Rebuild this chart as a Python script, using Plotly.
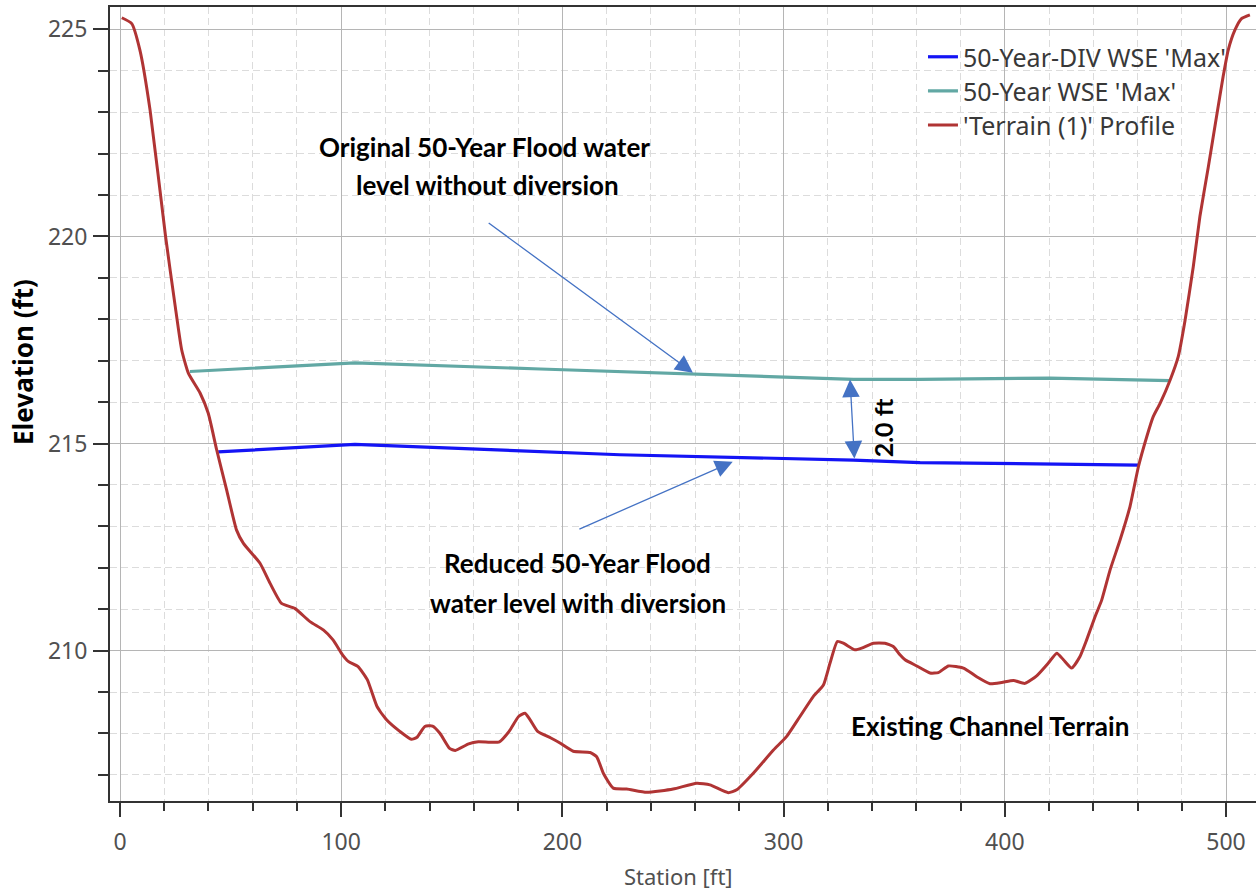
import plotly.graph_objects as go

# Cross-section terrain profile (station ft, elevation ft)
terrain_station = [0.8, 5.3, 9.0, 13.6, 20.6, 25.0, 27.9, 30.9, 36.2, 39.9, 43.7, 48.2,
                   52.7, 55.8, 63.3, 67.8, 73.0, 79.0, 85.9, 91.9, 96.3, 100.6, 103.2,
                   107.5, 111.8, 116.2, 120.5, 126.5, 131.7, 134.3, 137.8, 141.3, 144.7,
                   149.0, 151.6, 157.6, 162.0, 167.2, 171.5, 175.9, 180.2, 183.1, 185.4,
                   188.8, 194.8, 198.9, 204.9, 212.5, 215.5, 218.5, 223.0, 229.1, 238.1,
                   250.1, 260.7, 266.7, 275.0, 278.8, 286.3, 295.4, 301.4, 307.4, 313.4,
                   318.0, 321.0, 324.3, 327.0, 332.3, 335.3, 340.6, 345.8, 349.6, 352.6,
                   354.9, 360.2, 366.2, 370.0, 374.5, 381.3, 387.3, 393.3, 398.6, 403.9,
                   409.1, 414.4, 419.7, 423.5, 426.5, 430.2, 434.0, 437.0, 440.8, 443.8,
                   447.6, 452.1, 456.6, 460.4, 464.2, 467.1, 470.2, 474.7, 478.4, 481.5,
                   485.2, 488.2, 492.0, 495.7, 498.7, 501.0, 504.0, 507.0, 510.8]
terrain_elev = [225.28, 225.14, 224.5, 223.05, 220.0, 218.3, 217.26, 216.7, 216.22, 215.73,
                214.85, 213.88, 212.91, 212.59, 212.11, 211.63, 211.14, 211.02, 210.7,
                210.5, 210.26, 209.9, 209.74, 209.62, 209.3, 208.65, 208.33, 208.05,
                207.86, 207.91, 208.17, 208.18, 208.0, 207.64, 207.59, 207.75, 207.8,
                207.79, 207.8, 208.05, 208.41, 208.49, 208.33, 208.05, 207.89, 207.77,
                207.57, 207.54, 207.44, 207.04, 206.68, 206.66, 206.58, 206.66, 206.8,
                206.76, 206.57, 206.64, 207.04, 207.6, 207.93, 208.41, 208.89, 209.17,
                209.7, 210.22, 210.18, 210.02, 210.06, 210.18, 210.18, 210.1, 209.9,
                209.78, 209.63, 209.46, 209.47, 209.63, 209.58, 209.37, 209.2, 209.23,
                209.28, 209.21, 209.39, 209.7, 209.94, 209.78, 209.58, 209.86, 210.26,
                210.82, 211.22, 211.95, 212.67, 213.48, 214.44, 215.17, 215.65, 215.97,
                216.53, 217.1, 217.98, 219.27, 220.48, 221.68, 222.89, 223.86, 224.5,
                224.98, 225.26, 225.35]

# Maximum water surface elevation, 50-year event without diversion
wse50_station = [31.6, 106.2, 190.0, 259.2, 300.0, 331.5, 361.7, 420.4, 474.7]
wse50_elev = [216.74, 216.95, 216.80, 216.68, 216.61, 216.55, 216.55, 216.58, 216.52]

# Maximum water surface elevation, 50-year event with diversion
wse50div_station = [44.4, 106.2, 226.0, 277.3, 300.0, 331.5, 361.7, 420.4, 460.4]
wse50div_elev = [214.80, 214.98, 214.73, 214.67, 214.64, 214.60, 214.54, 214.51, 214.48]

x_ticks = [0, 100, 200, 300, 400, 500]
y_ticks = [210, 215, 220, 225]

BLUE = "#1414f5"
TEAL = "#62a8a4"
TERRAIN = "#b03434"
ARROW = "#4472c4"
AXIS = "#333333"

fig = go.Figure()
fig.add_trace(go.Scatter(x=wse50div_station, y=wse50div_elev, mode="lines",
                         name="50-Year-DIV WSE 'Max'", line=dict(color=BLUE, width=3.2),
                         legend="legend"))
fig.add_trace(go.Scatter(x=wse50_station, y=wse50_elev, mode="lines",
                         name="50-Year WSE 'Max'", line=dict(color=TEAL, width=3.2),
                         legend="legend2"))
fig.add_trace(go.Scatter(x=terrain_station, y=terrain_elev, mode="lines",
                         name="'Terrain (1)' Profile",
                         line=dict(color=TERRAIN, width=3, shape="spline", smoothing=0.5),
                         legend="legend3"))

tick_font = dict(family="Noto Sans", size=23, color="#505050")
legend_font = dict(family="Noto Sans", size=25, color="#383838")

fig.update_xaxes(
    range=[-4.52, 513.56], tickvals=x_ticks, ticks="outside", ticklen=14, tickwidth=2,
    tickcolor=AXIS, showline=True, linecolor=AXIS, linewidth=2, mirror=True,
    showgrid=True, gridcolor="#b5b5b5", gridwidth=1, zeroline=False,
    tickfont=tick_font, ticklabelstandoff=5,
    minor=dict(tickmode="linear", tick0=0, dtick=20, ticks="outside", ticklen=8,
               tickwidth=2, tickcolor=AXIS, showgrid=True, gridcolor="#dcdcdc",
               gridwidth=1, griddash="7px,4px"),
)
fig.update_yaxes(
    range=[206.37, 225.54], tickvals=y_ticks, ticks="outside", ticklen=15, tickwidth=2,
    tickcolor=AXIS, showline=True, linecolor=AXIS, linewidth=2,
    showgrid=True, gridcolor="#b5b5b5", gridwidth=1, zeroline=False,
    tickfont=tick_font, ticklabelstandoff=1,
    minor=dict(tickmode="linear", tick0=0, dtick=1, ticks="outside", ticklen=10,
               tickwidth=2, tickcolor=AXIS, showgrid=True, gridcolor="#dcdcdc",
               gridwidth=1, griddash="7px,4px"),
)

legend_common = dict(x=0.7094, xanchor="left", yanchor="middle", bgcolor="rgba(0,0,0,0)",
                     borderwidth=0, font=legend_font)
fig.update_layout(
    width=1256, height=890,
    margin=dict(l=110, r=0, t=7, b=89),
    plot_bgcolor="white", paper_bgcolor="white",
    showlegend=True,
    legend=dict(y=0.937, **legend_common),
    legend2=dict(y=0.894, **legend_common),
    legend3=dict(y=0.851, **legend_common),
)

# Axis titles
fig.add_annotation(text="Elevation (ft)", xref="paper", yref="paper", x=-0.0759, y=0.553,
                   xanchor="center", yanchor="middle", textangle=-90, showarrow=False,
                   font=dict(family="Noto Sans", size=26, color="black", weight="bold"))
fig.add_annotation(text="Station [ft]", xref="paper", yref="paper", x=0.4965, y=-0.0945,
                   xanchor="center", yanchor="middle", showarrow=False,
                   font=dict(family="Noto Sans", size=22, color="#505050"))

# Callout labels
note_font = dict(family="Lato", size=26, color="black", weight="bold")
callouts = [
    ("Original 50-Year Flood water", 165.0, 222.16),
    ("level without diversion", 166.0, 221.24),
    ("Reduced 50-Year Flood", 207.0, 212.12),
    ("water level with diversion", 207.0, 211.15),
    ("Existing Channel Terrain", 393.3, 208.17),
]
for text, cx, cy in callouts:
    fig.add_annotation(text=text, x=cx, y=cy, xref="x", yref="y", showarrow=False,
                       font=note_font)

fig.add_annotation(text="2.0 ft", x=345.0, y=215.37, xref="x", yref="y", showarrow=False,
                   textangle=-90, font=dict(family="Lato", size=25, color="black",
                                            weight="bold"))

# Leader arrows
arrow_style = dict(xref="x", yref="y", axref="x", ayref="y", text="", showarrow=True,
                   arrowhead=2, arrowsize=2.7, arrowwidth=1.3, arrowcolor=ARROW, standoff=0)
fig.add_annotation(x=259.0, y=216.71, ax=166.0, ay=220.35, **arrow_style)
fig.add_annotation(x=277.0, y=214.56, ax=207.0, ay=212.92, **arrow_style)
fig.add_annotation(x=332.0, y=214.64, ax=330.0, ay=216.58, arrowside="end+start",
                   startarrowhead=2, startarrowsize=2.7, startstandoff=0, **arrow_style)

fig.write_html("out.html")
